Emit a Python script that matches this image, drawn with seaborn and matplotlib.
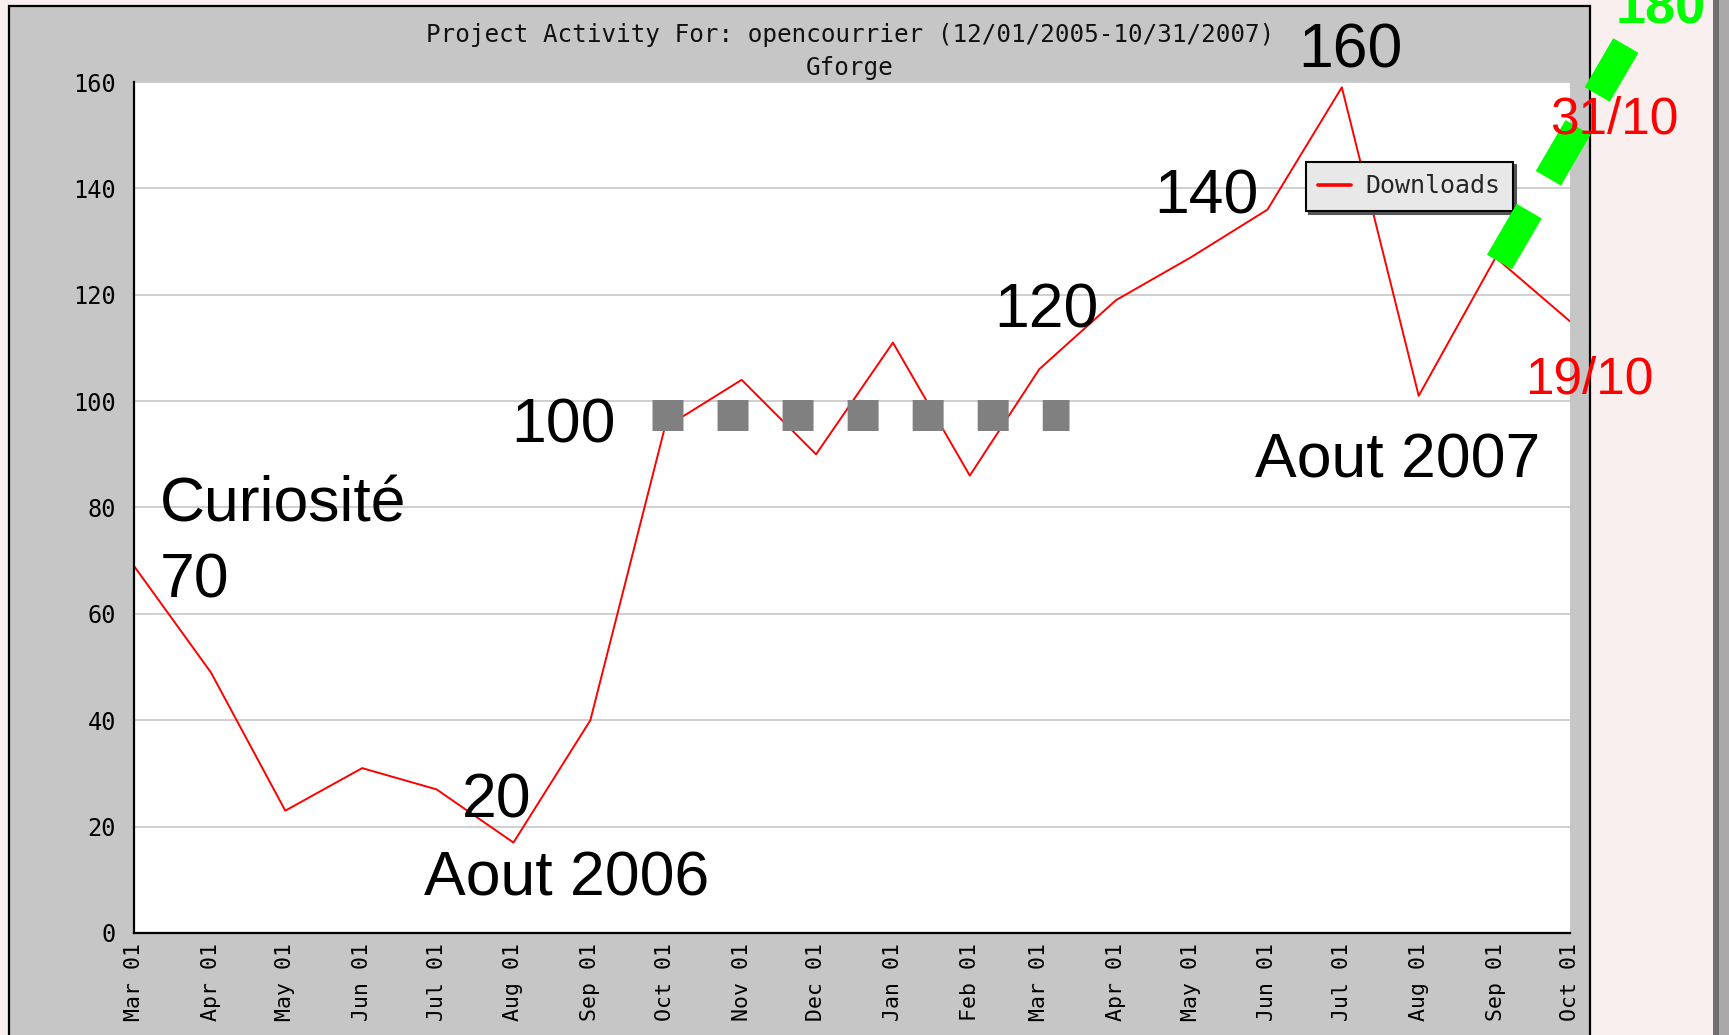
import numpy as np
import pandas as pd
import matplotlib
matplotlib.use("Agg")
import matplotlib.pyplot as plt
import matplotlib.dates as mdates
from matplotlib.patches import Rectangle
from matplotlib.lines import Line2D
from matplotlib.ticker import MultipleLocator
import seaborn as sns

# ---------------- data ----------------
months = pd.date_range("2006-03-01", "2007-10-01", freq="MS")
downloads = [69, 49, 23, 31, 27, 17, 40, 95, 104, 90, 111, 86, 106,
             119, 127, 136, 159, 101, 127, 115]
series_name = "Downloads"
title_lines = ["Project Activity For: opencourrier (12/01/2005-10/31/2007)", "Gforge"]
y_ticks = [0, 20, 40, 60, 80, 100, 120, 140, 160]
black_notes = ["Curiosité", "70", "20", "Aout 2006", "100", "120", "140", "160", "Aout 2007"]
red_notes = ["31/10", "19/10"]
green_note = "180"

df = pd.DataFrame({"month": months, "downloads": downloads})

# ---------------- style ----------------
sns.set_style("white")
plt.rcParams["font.family"] = ["DejaVu Sans"]
MONO = ["DejaVu Sans Mono", "DejaVu Sans"]
SANS = ["Liberation Sans", "DejaVu Sans"]

W, H = 1729, 1035
def fx(x):
    return x / W
def fy(y):
    return 1 - y / H

fig = plt.figure(figsize=(W / 100, H / 100), dpi=100, facecolor="#F8EFEE")

# slide decoration: gray chart frame + right shadow band
fig.patches.append(Rectangle((fx(9), -0.02), (1590 - 9) / W, fy(6) + 0.02,
                             transform=fig.transFigure, facecolor="#C6C6C6",
                             edgecolor="black", linewidth=1.6, zorder=-2))
fig.patches.append(Rectangle((fx(1713), 0), 6 / W, 1, transform=fig.transFigure,
                             facecolor="#707070", edgecolor="none", zorder=-2))
fig.patches.append(Rectangle((fx(1719), 0), 10 / W, 1, transform=fig.transFigure,
                             facecolor="#A8A8A8", edgecolor="none", zorder=-2))

ax = fig.add_axes([fx(134), fy(933), (1570 - 134) / W, (933 - 82) / H])
ax.set_facecolor("white")

sns.lineplot(data=df, x="month", y="downloads", ax=ax, color="#FF0000",
             linewidth=1.4, label=series_name)

ax.set_xlim(months[0], months[-1])
ax.set_ylim(y_ticks[0], y_ticks[-1])
ax.set_yticks(y_ticks)
ax.yaxis.set_minor_locator(MultipleLocator(10))
ax.xaxis.set_major_locator(mdates.MonthLocator())
ax.xaxis.set_major_formatter(mdates.DateFormatter("%b %d"))
ax.set_xlabel("")
ax.set_ylabel("")

ax.tick_params(axis="x", which="major", direction="in", length=8, width=1.2,
               labelrotation=90, pad=7, labelsize=15.5, colors="black")
ax.tick_params(axis="y", which="both", direction="in", length=6.5, width=1.2,
               pad=13, labelsize=17, colors="black")
for lab in ax.get_xticklabels() + ax.get_yticklabels():
    lab.set_family(MONO)

ax.grid(axis="y", which="major", color="#CCCCCC", linewidth=1.3)
ax.grid(axis="x", visible=False)
ax.set_axisbelow(True)
for side in ["top", "right"]:
    ax.spines[side].set_visible(False)
for side in ["left", "bottom"]:
    ax.spines[side].set_color("black")
    ax.spines[side].set_linewidth(1.6)

leg = ax.legend(loc="upper left", bbox_to_anchor=(0.816, 0.906), borderaxespad=0,
                frameon=True, fancybox=False,
                shadow={"color": "#555555", "alpha": 1},
                facecolor="#E8E8E8", edgecolor="black", framealpha=1,
                prop={"family": MONO, "size": 18}, handlelength=1.3,
                handletextpad=0.6, borderpad=0.5)
leg.get_frame().set_linewidth(1.5)
for h in leg.get_lines():
    h.set_linewidth(2.6)

# title
fig.text(fx(850), fy(35), title_lines[0], ha="center", va="center",
         family=MONO, fontsize=17.5, color="#111111")
fig.text(fx(850), fy(68), title_lines[1], ha="center", va="center",
         family=MONO, fontsize=17.5, color="#111111")

# gray dotted marker line
fig.add_artist(Line2D([fx(652), fx(1069)], [fy(414.5), fy(414.5)],
                      transform=fig.transFigure, color="#808080", linewidth=22.3,
                      dashes=(1.0, 1.1), dash_capstyle="butt",
                      solid_capstyle="butt", zorder=4))

# black annotations (left x, baseline y in pixels)
black_pos = [(160, 521), (160, 597), (462, 818), (424, 895), (511, 442),
             (994, 327), (1154, 214), (1298, 68), (1255, 478)]
for txt, (px, py) in zip(black_notes, black_pos):
    fig.text(fx(px), fy(py), txt, ha="left", va="baseline", family=SANS,
             fontsize=45, color="black", zorder=5)

# red annotations
red_pos = [(1550, 133), (1525, 394)]
for txt, (px, py) in zip(red_notes, red_pos):
    fig.text(fx(px), fy(py), txt, ha="left", va="baseline", family=SANS,
             fontsize=37, color="#FF0000", zorder=7)

# green projection
fig.add_artist(Line2D([fx(1499.5), fx(1625.8)], [fy(262), fy(45.5)],
                      transform=fig.transFigure, color="#00FF00", linewidth=20.9,
                      dashes=(2.03, 1.31), dash_capstyle="butt",
                      solid_capstyle="butt", zorder=6))
fig.text(fx(1616), fy(23), green_note, ha="left", va="baseline", family=SANS,
         fontsize=39, fontweight="bold", color="#00FF00", zorder=7)

fig.savefig("out.png", dpi=100, facecolor=fig.get_facecolor())
